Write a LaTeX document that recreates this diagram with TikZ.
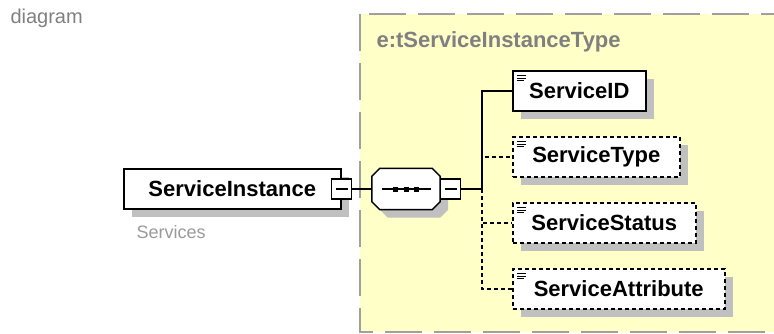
\documentclass[tikz,border=0pt]{standalone}
\usepackage{fontspec}
\setmainfont{Liberation Sans}
\usetikzlibrary{shadows}
\definecolor{typebg}{HTML}{FFFFC8}
\definecolor{framegray}{HTML}{A0A0A0}
\definecolor{shadowgray}{HTML}{C0C0C0}
\definecolor{labelgray}{HTML}{808080}
\definecolor{notegray}{HTML}{9A9A9A}

% octagon round the sequence node
\newcommand\octpath[1]{([xshift=8]#1.north west) -- ([xshift=-8]#1.north east) -- ([yshift=-8]#1.north east)
  -- ([yshift=8]#1.south east) -- ([xshift=-8]#1.south east) -- ([xshift=8]#1.south west)
  -- ([yshift=8]#1.south west) -- ([yshift=-8]#1.north west) -- cycle}

\tikzset{
  typeframe/.style={draw=framegray, line width=2, fill=typebg, dash pattern=on 37pt off 12pt},
  shade box/.style={drop shadow={shadow xshift=8pt, shadow yshift=-8pt, opacity=1, fill=shadowgray}},
  box/.style={draw, fill=white, anchor=west, minimum height=40, inner sep=0pt, line width=1.5,
    font=\fontsize{22}{26}\selectfont\bfseries, shade box},
  elem/.style={box,
    path picture={
      \draw[solid, black, line width=1] ([shift={(4,4.5)}]path picture bounding box.north west) -- ++(9,0)
        ++(-9,2.7) -- ++(9,0) ++(-9,2.7) -- ++(7,0);}},
  req/.style={solid},
  opt/.style={dash pattern=on 4pt off 3pt},
  conn/.style={line width=1.5},
  minus/.style={draw, fill=white, minimum size=20, inner sep=0pt, line width=1.2,
    path picture={\draw[line width=1.2] ([xshift=4]path picture bounding box.west) -- ([xshift=-4]path picture bounding box.east);}},
  seq/.style={minimum width=68, minimum height=41, inner sep=0pt}
}

\begin{document}
\begin{tikzpicture}[x=1pt, y=-1pt]
  \useasboundingbox (0,0) rectangle (774,333);

  % complex type frame
  \begin{scope}
    \clip (0,0) rectangle (774,333);
    \draw[typeframe] (360,14) rectangle (800,332);
  \end{scope}
  \node[anchor=base west, font=\fontsize{20}{24}\selectfont, text=labelgray] (cap) at (7,23) {diagram};
  \node[anchor=base west, font=\fontsize{22}{26}\selectfont\bfseries, text=labelgray] (tname) at (373,47) {e:tServiceInstanceType};

  % root element
  \node[box, req, minimum width=217] (si) at (123,189) {ServiceInstance};
  \node[minus] (simin) at (si.east) {};
  \node[anchor=base west, font=\fontsize{18}{20}\selectfont, text=notegray] (sinote) at (133,238) {Services};

  % sequence compositor
  \node[seq] (seq) at (406,189) {};
  \fill[shadowgray, transform canvas={xshift=8pt, yshift=-8pt}] \octpath{seq};
  \draw[line width=1.5, fill=white] \octpath{seq};
  \draw[line width=1.5] ([xshift=-24]seq.center) -- ([xshift=25]seq.center);
  \foreach \dx in {-10.5,0,10.5}
    \fill[black] ([xshift=\dx]seq.center) +(-2.5,-2.5) rectangle +(2.5,2.5);
  \node[minus, anchor=west] (seqmin) at (seq.east) {};
  \coordinate (trunk) at (482,189);
  \draw[conn] (simin) -- (seq);
  \draw[conn] (seqmin) -- (trunk);

  % child elements
  \foreach \nm/\txt/\yy/\ww/\kind in {sid/ServiceID/91/133/req, stype/ServiceType/157/167/opt,
      sstat/ServiceStatus/223/183/opt, sattr/ServiceAttribute/289/212/opt} {
    \node[elem, \kind, minimum width=\ww] (\nm) at (512,\yy) {\txt};
    \draw[conn, \kind] (trunk) |- (\nm);
  }
\end{tikzpicture}
\end{document}
